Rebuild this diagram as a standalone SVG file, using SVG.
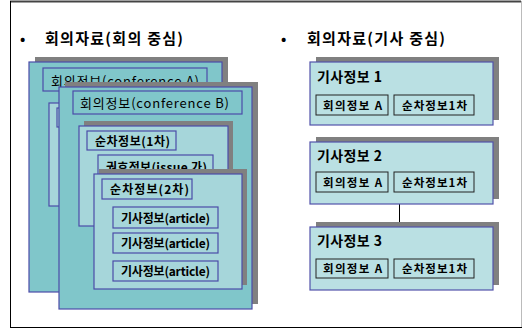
<svg xmlns="http://www.w3.org/2000/svg" width="522" height="328" viewBox="0 0 522 328">
<style>
.t{font-family:"Noto Sans CJK KR","Liberation Sans",sans-serif;fill:#000}
.b{font-weight:bold}
.sh{fill:#808080}
.dk{fill:#80C6CA;stroke:#4B4BA8;stroke-width:1.2}
.lt{fill:#A6D6DA;stroke:#4B4BA8;stroke-width:1.2}
.rb{fill:#BAE0E3;stroke:#5252AA;stroke-width:1.2}
.sb{fill:#BAE0E3;stroke:#222;stroke-width:1}
</style>
<rect x="0" y="0" width="522" height="328" fill="#fff"/>
<g id="frame">
<line x1="10" y1="1.5" x2="521" y2="1.5" stroke="#444" stroke-width="2"/>
<line x1="10.5" y1="1" x2="10.5" y2="327" stroke="#000" stroke-width="1"/>
<line x1="521.5" y1="1" x2="521.5" y2="327" stroke="#bbb" stroke-width="1"/>
<line x1="10" y1="327.5" x2="522" y2="327.5" stroke="#000" stroke-width="1"/>
</g>
<g id="title-left">
<text class="t b" x="20" y="44" font-size="14">•</text>
<text class="t b" x="45" y="44" font-size="15" textLength="138" lengthAdjust="spacing">회의자료(회의 중심)</text>
</g>
<g id="title-right">
<text class="t b" x="281" y="44" font-size="14">•</text>
<text class="t b" x="307" y="44" font-size="15" textLength="138" lengthAdjust="spacing">회의자료(기사 중심)</text>
</g>
<g id="conference-a">
<rect class="sh" x="35" y="57" width="193" height="230"/>
<rect class="dk" x="29" y="62" width="193" height="230"/>
<rect class="dk" x="43" y="68" width="164" height="23"/>
<text class="t" x="51" y="86" font-size="13" textLength="148" lengthAdjust="spacing">회의정보(conference A)</text>
<rect class="lt" x="49" y="103" width="150" height="103"/>
<rect class="lt" x="57" y="108" width="80" height="19"/>
</g>
<g id="conference-b">
<rect class="sh" x="65" y="82" width="193" height="222"/>
<rect class="dk" x="59" y="87" width="193" height="222"/>
<rect class="dk" x="73" y="91" width="169" height="23"/>
<text class="t" x="80" y="108" font-size="13" textLength="149" lengthAdjust="spacing">회의정보(conference B)</text>
</g>
<g id="sequence-1">
<rect class="sh" x="84" y="121" width="149" height="100"/>
<rect class="lt" x="79" y="126" width="149" height="100"/>
<rect class="lt" x="87" y="131" width="89" height="19"/>
<text class="t b" x="95" y="146" font-size="12" textLength="75" lengthAdjust="spacing">순차정보(1차)</text>
</g>
<g id="issue">
<rect class="lt" x="98" y="155" width="115" height="22"/>
<text class="t b" x="106" y="172" font-size="12" textLength="101" lengthAdjust="spacing">권호정보(issue 가)</text>
</g>
<g id="sequence-2">
<rect class="sh" x="99" y="169" width="148" height="116"/>
<rect class="lt" x="94" y="174" width="148" height="115"/>
<rect class="lt" x="102" y="179" width="90" height="20"/>
<text class="t b" x="110" y="194" font-size="12" textLength="79" lengthAdjust="spacing">순차정보(2차)</text>
</g>
<g id="article-1">
<rect class="lt" x="113" y="207" width="105" height="21"/>
<text class="t b" x="121" y="223" font-size="12" textLength="89" lengthAdjust="spacing">기사정보(article)</text>
</g>
<g id="article-2">
<rect class="lt" x="113" y="233" width="105" height="20"/>
<text class="t b" x="121" y="248" font-size="12" textLength="89" lengthAdjust="spacing">기사정보(article)</text>
</g>
<g id="article-3">
<rect class="lt" x="113" y="261" width="105" height="20"/>
<text class="t b" x="121" y="276" font-size="12" textLength="89" lengthAdjust="spacing">기사정보(article)</text>
</g>
<g id="connectors">
<line x1="399.5" y1="204" x2="399.5" y2="227" stroke="#000" stroke-width="1"/>
</g>
<g id="article-info-1">
<rect class="sh" x="316" y="57" width="183" height="63"/>
<rect class="rb" x="310" y="62" width="183" height="63"/>
<text class="t b" x="317" y="82" font-size="14" textLength="65" lengthAdjust="spacing">기사정보 1</text>
<rect class="sb" x="316" y="95" width="72" height="20"/>
<text class="t b" x="323" y="110" font-size="11.5" textLength="59" lengthAdjust="spacing">회의정보 A</text>
<rect class="sb" x="394" y="95" width="80" height="20"/>
<text class="t b" x="402" y="110" font-size="11.5" textLength="65" lengthAdjust="spacing">순차정보1차</text>
</g>
<g id="article-info-2">
<rect class="sh" x="316" y="137" width="183" height="62"/>
<rect class="rb" x="310" y="142" width="183" height="62"/>
<text class="t b" x="317" y="161" font-size="14" textLength="65" lengthAdjust="spacing">기사정보 2</text>
<rect class="sb" x="316" y="172" width="72" height="20"/>
<text class="t b" x="323" y="187" font-size="11.5" textLength="59" lengthAdjust="spacing">회의정보 A</text>
<rect class="sb" x="394" y="172" width="80" height="20"/>
<text class="t b" x="402" y="187" font-size="11.5" textLength="65" lengthAdjust="spacing">순차정보1차</text>
</g>
<g id="article-info-3">
<rect class="sh" x="316" y="222" width="183" height="63"/>
<rect class="rb" x="310" y="227" width="183" height="63"/>
<text class="t b" x="317" y="246" font-size="14" textLength="65" lengthAdjust="spacing">기사정보 3</text>
<rect class="sb" x="316" y="259" width="72" height="19"/>
<text class="t b" x="323" y="273" font-size="11.5" textLength="59" lengthAdjust="spacing">회의정보 A</text>
<rect class="sb" x="394" y="259" width="80" height="19"/>
<text class="t b" x="402" y="273" font-size="11.5" textLength="65" lengthAdjust="spacing">순차정보1차</text>
</g>
</svg>
